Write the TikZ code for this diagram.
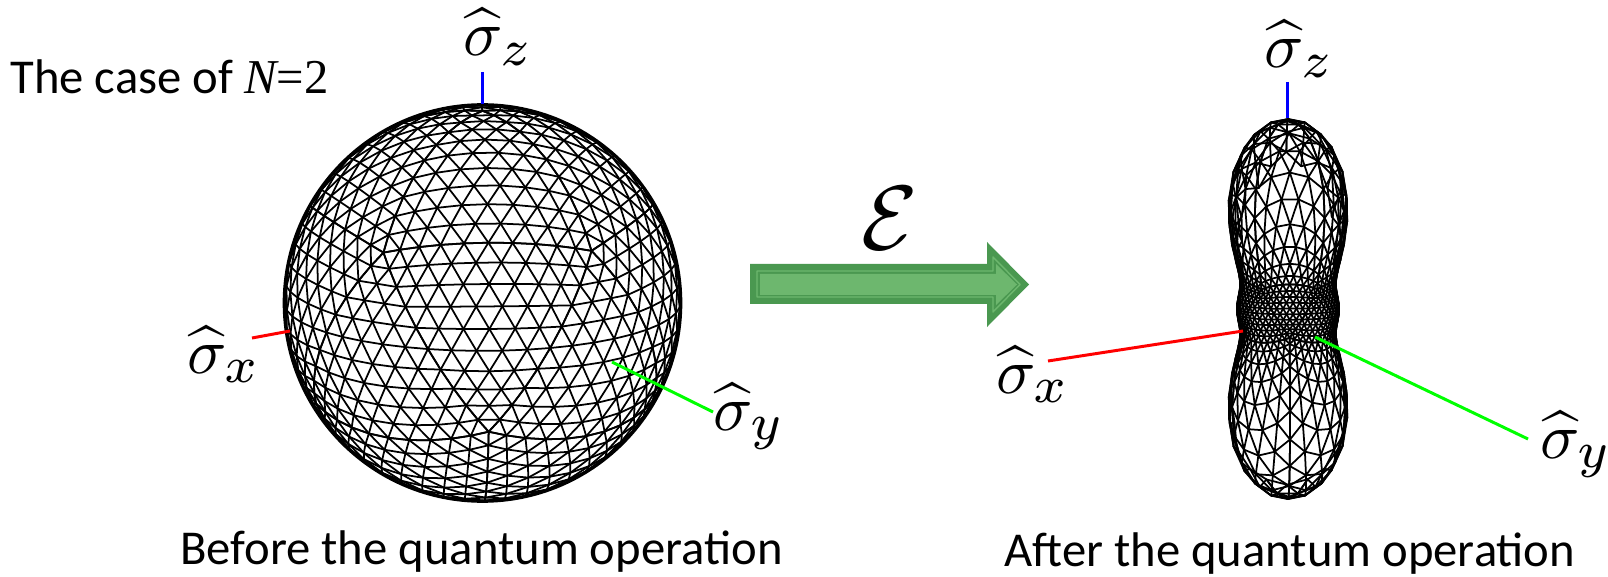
\documentclass[tikz,border=0pt]{standalone}
\usepackage{amsmath}
\usepackage{graphicx}
\usepackage{fontspec}
\setmainfont{Carlito}
\newfontfamily\casefont{Liberation Serif}
\usepackage{tikz}

\definecolor{arrowdark}{HTML}{4A9850}
\definecolor{arrowlight}{HTML}{6DB76E}

\newcommand{\axisname}[1]{$\widehat{\sigma}_{\scalebox{1.12}{$\scriptstyle #1$}}$}

% one icosahedron face, split in small triangles and bent onto the blob
\newcommand{\meshedge}[2]{%
  \ifdim\csname d#1\endcsname pt>\blobcut pt \ifdim\csname d#2\endcsname pt>\blobcut pt
    \draw[meshline] (m#1) -- (m#2);
  \fi\fi}
\newcommand{\meshface}[6]{%
  \pgfmathsetmacro{\ax}{cos(#2)*cos(#1)}\pgfmathsetmacro{\ay}{cos(#2)*sin(#1)}\pgfmathsetmacro{\az}{sin(#2)}
  \pgfmathsetmacro{\bx}{cos(#4)*cos(#3)}\pgfmathsetmacro{\by}{cos(#4)*sin(#3)}\pgfmathsetmacro{\bz}{sin(#4)}
  \pgfmathsetmacro{\cx}{cos(#6)*cos(#5)}\pgfmathsetmacro{\cy}{cos(#6)*sin(#5)}\pgfmathsetmacro{\cz}{sin(#6)}
  \foreach \i in {0,...,10}{
    \pgfmathtruncatemacro{\jmax}{10-\i}
    \foreach \j in {0,...,\jmax}{
      \pgfmathtruncatemacro{\k}{10-\i-\j}
      \pgfmathsetmacro{\vx}{\i*\ax+\j*\bx+\k*\cx}
      \pgfmathsetmacro{\vy}{\i*\ay+\j*\by+\k*\cy}
      \pgfmathsetmacro{\vz}{\i*\az+\j*\bz+\k*\cz}
      \pgfmathsetmacro{\vl}{sqrt(\vx*\vx+\vy*\vy+\vz*\vz)}
      \pgfmathsetmacro{\vh}{\vz/\vl}
      \pgfmathsetmacro{\vu}{(\vx*cos(20)+\vy*sin(20))/\vl}
      \pgfmathsetmacro{\vw}{(\vy*cos(20)-\vx*sin(20))/\vl}
      \pgfmathsetmacro{\vd}{\vw*cos(\blobtilt)+\vh*sin(\blobtilt)}
      \pgfmathsetmacro{\vr}{\blobwaist+\blobtip*abs(\vh*\vh*\vh*\vh*\vh)}
      \expandafter\xdef\csname d\i-\j\endcsname{\vd}
      \coordinate (m\i-\j) at ({\blobx+\vr*\vu},{\bloby-\vr*(\vh*cos(\blobtilt)-\vw*sin(\blobtilt))});
      \ifnum\i>0
        \meshedge{\i-\j}{\the\numexpr\i-1\relax-\j}
        \meshedge{\i-\j}{\the\numexpr\i-1\relax-\the\numexpr\j+1\relax}
      \fi
      \ifnum\j>0
        \meshedge{\i-\j}{\i-\the\numexpr\j-1\relax}
      \fi
    }}}
% the twenty faces: centre (#1,#2), waist #3, tip length #4, tilt #5, hidden below depth #6
\newcommand{\meshblob}[6]{%
  \def\blobx{#1}\def\bloby{#2}\def\blobwaist{#3}\def\blobtip{#4}\def\blobtilt{#5}\def\blobcut{#6}
  \foreach \lon in {0,72,...,288}{
    \pgfmathsetmacro{\lonb}{\lon+72}
    \pgfmathsetmacro{\lonm}{\lon+36}
    \pgfmathsetmacro{\lonn}{\lon+108}
    \meshface{0}{90}{\lon}{26.565}{\lonb}{26.565}
    \meshface{\lon}{26.565}{\lonb}{26.565}{\lonm}{-26.565}
    \meshface{\lonm}{-26.565}{\lonn}{-26.565}{\lonb}{26.565}
    \meshface{0}{-90}{\lonm}{-26.565}{\lonn}{-26.565}
  }}

\begin{document}
\begin{tikzpicture}[
  x=0.02cm,y=-0.02cm,
  line cap=round,
  line join=round,
  meshline/.style={draw=black,line width=1pt},
  axisline/.style={line width=1.7pt,line cap=butt},
  axislabel/.style={anchor=base west,inner sep=0pt,scale=3.7},
  caption/.style={anchor=base west,inner sep=0pt,font=\fontsize{27.7}{30}\selectfont}
]
\useasboundingbox (0,0) rectangle (1608,577);

% Before: the sphere
\meshblob{482.5}{303}{198}{0}{14}{-0.1}
\draw[meshline,line width=1.5pt] (482.5,303) circle (198.5);
\coordinate (ballztop) at (482,72);
\coordinate (ballzend) at (482,104);
\coordinate (ballxtip) at (252,338);
\coordinate (ballxend) at (290,331);
\coordinate (ballyend) at (612,362);
\coordinate (ballytip) at (713,412);
\draw[axisline,blue] (ballztop) -- (ballzend);
\draw[axisline,red] (ballxtip) -- (ballxend);
\draw[axisline,green] (ballyend) -- (ballytip);
\node[axislabel] (ballzlabel) at (462,56) {\axisname{z}};
\node[axislabel] (ballxlabel) at (186,373) {\axisname{x}};
\node[axislabel] (ballylabel) at (712,430) {\axisname{y}};

% The map
\node[scale=5.2,inner sep=0pt] (mapname) at (890,218) {$\mathcal{E}$};
\fill[arrowdark] (750,264) -- (987,264) -- (987,242) -- (1029,284.5) -- (987,327) -- (987,304) -- (750,304) -- cycle;
\draw[arrowlight,line width=0.8pt,fill=arrowdark] (757,271) -- (993,271) -- (993,257) -- (1020,284.5) -- (993,312) -- (993,297) -- (757,297) -- cycle;
\fill[arrowlight] (760,274) -- (996,274) -- (996,264) -- (1017,284.5) -- (996,305) -- (996,295) -- (760,295) -- cycle;

% After: the squeezed blob
\meshblob{1288}{309}{51}{140}{6}{-0.3}
\coordinate (blobztop) at (1287,82);
\coordinate (blobzend) at (1287,118);
\coordinate (blobxtip) at (1048,361);
\coordinate (blobxend) at (1243,331);
\coordinate (blobyend) at (1315,337);
\coordinate (blobytip) at (1528,439);
\draw[axisline,blue] (blobztop) -- (blobzend);
\draw[axisline,red] (blobxtip) -- (blobxend);
\draw[axisline,green] (blobyend) -- (blobytip);
\node[axislabel] (blobzlabel) at (1263,68) {\axisname{z}};
\node[axislabel] (blobxlabel) at (995,393) {\axisname{x}};
\node[axislabel] (blobylabel) at (1539,458) {\axisname{y}};

% Texts
\node[caption] (casetext) at (10,94) {The case of {\casefont\itshape N}{\casefont =2}};
\node[caption] (beforetext) at (180,564) {Before the quantum operation};
\node[caption] (aftertext) at (1004,566) {After the quantum operation};
\end{tikzpicture}
\end{document}
